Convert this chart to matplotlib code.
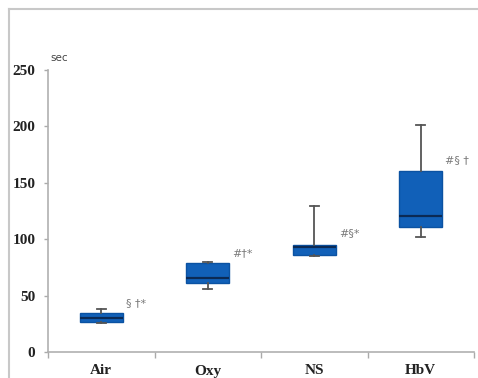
import matplotlib
matplotlib.use("Agg")
import matplotlib.pyplot as plt
from matplotlib.lines import Line2D

categories = ["Air", "Oxy", "NS", "HbV"]
whisker_low = [26, 56, 85, 102]
q1 = [27, 61.5, 85.7, 110.4]
median = [30, 66, 93.4, 120.3]
q3 = [34.5, 78.6, 94.9, 160.7]
whisker_high = [38, 80, 129, 201]
annotations = ["§ †*", "#†*", "#§*", "#§ †"]
annot_y = [43, 88, 105, 170]
yticks = [0, 50, 100, 150, 200, 250]

fig = plt.figure(figsize=(4.78, 3.78), dpi=100)
W, H = 478, 378
ax = fig.add_axes([48 / W, (H - 352) / H, (474 - 48) / W, (352 - 70) / H])

stats = []
for i, c in enumerate(categories):
    stats.append(dict(label=c, whislo=whisker_low[i], q1=q1[i], med=median[i],
                      q3=q3[i], whishi=whisker_high[i], fliers=[]))
positions = [i + 0.5 for i in range(len(categories))]
ax.bxp(stats, positions=positions, widths=0.40, patch_artist=True, showfliers=False,
       boxprops=dict(facecolor="#1160b8", edgecolor="#0b52a2", linewidth=1.0),
       medianprops=dict(color="#0b2a55", linewidth=1.6),
       whiskerprops=dict(color="#555555", linewidth=1.3),
       capprops=dict(color="#555555", linewidth=1.3),
       capwidths=0.08, zorder=3)

for i, t in enumerate(annotations):
    ax.text(positions[i] + 0.23, annot_y[i], t, fontsize=8, color="#7a7a7a",
            ha="left", va="center", family="DejaVu Sans")

ax.set_xlim(0, 4)
ax.set_ylim(0, 250)
ax.set_yticks(yticks)
ax.set_yticklabels([str(v) for v in yticks])
ax.set_xticks(positions)
ax.set_xticklabels(categories)
ax.set_xticks([0, 1, 2, 3, 4], minor=True)
ax.tick_params(axis="x", which="major", length=0, pad=9)
ax.tick_params(axis="x", which="minor", length=4, color="#aaaaaa", width=1)
ax.tick_params(axis="y", length=3, color="#aaaaaa", width=1, pad=6)
for lab in ax.get_xticklabels() + ax.get_yticklabels():
    lab.set_fontfamily("Liberation Serif")
    lab.set_fontweight("bold")
    lab.set_fontsize(11)
    lab.set_color("#222222")
for s in ["top", "right"]:
    ax.spines[s].set_visible(False)
for s in ["left", "bottom"]:
    ax.spines[s].set_color("#b0b0b0")
    ax.spines[s].set_linewidth(1.2)

fig.text(50 / W, 1 - 58 / H, "sec", fontsize=7.5, color="#444444", ha="left", va="center",
         family="DejaVu Sans")

# frame lines (top and left)
fig.add_artist(Line2D([9 / W, 1], [1 - 9 / H, 1 - 9 / H], color="#c8c8c8", linewidth=1.5,
                      transform=fig.transFigure))
fig.add_artist(Line2D([9 / W, 9 / W], [0, 1 - 9 / H], color="#c8c8c8", linewidth=1.5,
                      transform=fig.transFigure))

fig.savefig("out.png", dpi=100)
